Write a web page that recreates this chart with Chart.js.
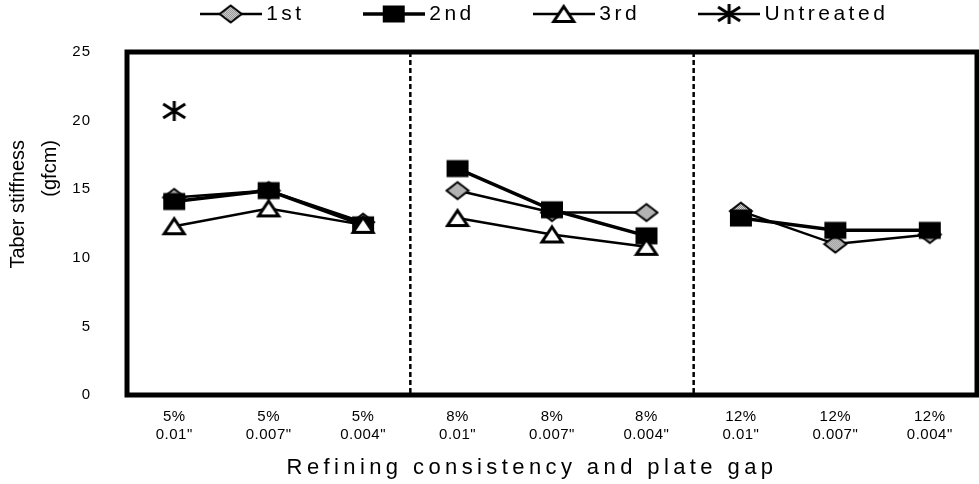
<!DOCTYPE html>
<html lang="en">
<head>
<meta charset="UTF-8">
<title>Taber stiffness</title>
<script src="https://cdn.jsdelivr.net/npm/chart.js@4"></script>
<style>
  body { margin: 0; background: #fff; }
  #wrap { width: 979px; height: 484px; }
</style>
</head>
<body>
<div id="wrap"><canvas id="chart" width="979" height="484"></canvas></div>
<script>
// categories (two-line x labels)
var consistency = ['5%', '5%', '5%', '8%', '8%', '8%', '12%', '12%', '12%'];
var plateGap = ['0.01"', '0.007"', '0.004"', '0.01"', '0.007"', '0.004"', '0.01"', '0.007"', '0.004"'];

// series values (gfcm)
var first     = [14.4, 14.9, 12.6, 14.9, 13.3, 13.3, 13.4, 11.0, 11.7];
var second    = [14.1, 14.9, 12.4, 16.5, 13.5, 11.6, 12.9, 12.0, 12.0];
var third     = [12.3, 13.6, 12.4, 12.9, 11.7, 10.8, null, null, null];
var untreated = [20.7, null, null, null, null, null, null, null, null];

var yTicks = [0, 5, 10, 15, 20, 25];

var FONT = "'Liberation Sans', Arial, sans-serif";
Chart.defaults.font.family = FONT;
Chart.defaults.color = '#000';

var labels = consistency.map(function (c, i) { return [c, plateGap[i]]; });

// last index of each consistency group -> no line across groups
var groupEnds = [];
for (var i = 0; i < consistency.length - 1; i++) {
    if (consistency[i] !== consistency[i + 1]) groupEnds.push(i);
}

// ---- marker images ----
function makeCanvas(w, h, draw) {
    var c = document.createElement('canvas');
    c.width = w; c.height = h;
    draw(c.getContext('2d'));
    return c;
}
var hatch = makeCanvas(2, 2, function (g) {
    g.fillStyle = '#eeeeee'; g.fillRect(0, 0, 2, 2);
    g.fillStyle = '#777'; g.fillRect(0, 0, 1, 1); g.fillRect(1, 1, 1, 1);
});
function diamond(g, cx, cy) {
    g.beginPath();
    g.moveTo(cx, cy - 8.5); g.lineTo(cx + 11, cy); g.lineTo(cx, cy + 8.5); g.lineTo(cx - 11, cy);
    g.closePath();
    g.fillStyle = g.createPattern(hatch, 'repeat'); g.fill();
    g.lineWidth = 2; g.strokeStyle = '#000'; g.stroke();
}
function square(g, cx, cy) {
    g.fillStyle = '#000'; g.fillRect(cx - 11, cy - 8.5, 22, 17);
}
function triangle(g, cx, cy) {
    g.beginPath();
    g.moveTo(cx, cy - 7.5); g.lineTo(cx + 10, cy + 7.5); g.lineTo(cx - 10, cy + 7.5);
    g.closePath();
    g.fillStyle = '#fff'; g.fill();
    g.lineWidth = 3; g.strokeStyle = '#000'; g.stroke();
}
function asterisk(g, cx, cy) {
    g.beginPath();
    g.moveTo(cx, cy - 10); g.lineTo(cx, cy + 10);
    g.moveTo(cx - 11, cy - 7); g.lineTo(cx + 11, cy + 7);
    g.moveTo(cx - 11, cy + 7); g.lineTo(cx + 11, cy - 7);
    g.lineWidth = 3; g.strokeStyle = '#000'; g.stroke();
}
function marker(fn) { return makeCanvas(26, 24, function (g) { fn(g, 13, 12); }); }
function legendIcon(fn, lw) {
    return makeCanvas(62, 24, function (g) {
        g.beginPath(); g.moveTo(0, 12); g.lineTo(62, 12);
        g.lineWidth = lw; g.strokeStyle = '#000'; g.stroke();
        fn(g, 31, 12);
    });
}

var shapes = [diamond, square, triangle, asterisk];
var widths = [2.5, 3.5, 2.5, 2.5];
var legendIcons = shapes.map(function (f, i) { return legendIcon(f, widths[i]); });

function gapSegment(ctx) {
    return groupEnds.indexOf(ctx.p0DataIndex) >= 0 ? 'rgba(0,0,0,0)' : undefined;
}

function series(label, data, k, order) {
    return {
        label: label,
        data: data,
        borderColor: '#000',
        borderWidth: widths[k],
        pointStyle: marker(shapes[k]),
        pointRadius: 10,
        spanGaps: false,
        showLine: k !== 3,
        order: order,
        segment: { borderColor: gapSegment }
    };
}

// ---- small wrappers for letter spacing / offsets ----
function wrap(obj, name, before) {
    var orig = obj[name];
    obj[name] = function () {
        var ctx = this.ctx;
        ctx.save();
        before(ctx, this);
        var r = orig.apply(this, arguments);
        ctx.restore();
        return r;
    };
}

var tweaks = {
    id: 'tweaks',
    beforeDraw: function (chart) {
        if (chart.$wrapped) return;
        chart.$wrapped = true;
        wrap(chart.scales.x, 'drawLabels', function (ctx) { ctx.letterSpacing = '0.5px'; });
        wrap(chart.scales.x, 'drawTitle', function (ctx) { ctx.letterSpacing = '4.4px'; ctx.translate(-20, 0); });
        wrap(chart.scales.y, 'drawLabels', function (ctx) { ctx.letterSpacing = '1px'; });
        wrap(chart.scales.y, 'drawTitle', function (ctx) { ctx.translate(0, 88); });
        // legend items sit low because of the wide item padding: lift them up
        var lg = chart.legend, origDraw = lg.draw;
        lg.draw = function () {
            var ctx = this.ctx, b = this.bottom;
            ctx.save();
            ctx.letterSpacing = '3.5px';
            ctx.translate(27, -60.5);
            this.bottom = b + 100;
            origDraw.apply(this, arguments);
            this.bottom = b;
            ctx.restore();
        };
    },
    beforeDatasetsDraw: function (chart) {
        var ctx = chart.ctx, a = chart.chartArea, x = chart.scales.x;
        ctx.save();
        ctx.strokeStyle = '#000';
        ctx.lineWidth = 2.5;
        ctx.setLineDash([5, 3]);
        groupEnds.forEach(function (idx) {
            var px = (x.getPixelForValue(idx) + x.getPixelForValue(idx + 1)) / 2;
            ctx.beginPath(); ctx.moveTo(px, a.top); ctx.lineTo(px, a.bottom); ctx.stroke();
        });
        ctx.setLineDash([]);
        ctx.lineWidth = 5;
        ctx.strokeRect(a.left, a.top, a.right - a.left, a.bottom - a.top);
        ctx.restore();
    }
};

var ctx = document.getElementById('chart').getContext('2d');
var chart = new Chart(ctx, {
    type: 'line',
    data: {
        labels: labels,
        datasets: [
            series('1st', first, 0, 3),
            series('2nd', second, 1, 2),
            series('3rd', third, 2, 1),
            series('Untreated', untreated, 3, 0)
        ]
    },
    options: {
        responsive: false,
        devicePixelRatio: 1,
        animation: false,
        layout: { autoPadding: false, padding: { left: 0, right: 2, top: 0, bottom: 0 } },
        plugins: {
            tooltip: { enabled: false },
            legend: {
                position: 'top',
                maxHeight: 52,
                labels: {
                    usePointStyle: true,
                    pointStyleWidth: 50,
                    padding: 64,
                    font: { size: 21, family: FONT },
                    color: '#000',
                    generateLabels: function (chart) {
                        return chart.data.datasets.map(function (ds, i) {
                            return {
                                text: ds.label,
                                pointStyle: legendIcons[i],
                                fillStyle: '#000',
                                strokeStyle: '#000',
                                lineWidth: 0,
                                hidden: false,
                                datasetIndex: i,
                                fontColor: '#000'
                            };
                        });
                    }
                }
            }
        },
        scales: {
            x: {
                offset: true,
                grid: { display: false, drawTicks: false },
                border: { display: false },
                ticks: { padding: 13, maxRotation: 0, autoSkip: false, font: { size: 15 } },
                title: {
                    display: true,
                    text: 'Refining consistency and plate gap',
                    font: { size: 22 },
                    padding: { top: 0, bottom: 3 }
                },
                afterFit: function (s) { s.height = 89; }
            },
            y: {
                min: 0,
                max: 25,
                grid: { display: false, drawTicks: false },
                border: { display: false },
                ticks: { padding: 36, font: { size: 15 } },
                afterBuildTicks: function (s) { s.ticks = yTicks.map(function (v) { return { value: v }; }); },
                title: {
                    display: true,
                    text: ['Taber stiffness', '(gfcm)'],
                    align: 'end',
                    font: { size: 20, lineHeight: 1.6 },
                    padding: { top: 2, bottom: 0 }
                },
                afterFit: function (s) { s.width = 127; }
            }
        }
    },
    plugins: [tweaks]
});
</script>
</body>
</html>
